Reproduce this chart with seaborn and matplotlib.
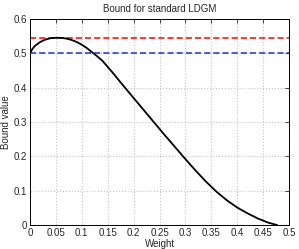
import matplotlib
matplotlib.use("Agg")
import matplotlib.pyplot as plt
import seaborn as sns
import pandas as pd

# values
weight = [0.0, 0.005, 0.01, 0.02, 0.03, 0.04, 0.05, 0.06, 0.07, 0.08, 0.09, 0.10,
          0.11, 0.12, 0.13, 0.14, 0.16, 0.18, 0.20, 0.22, 0.24, 0.26, 0.28,
          0.30, 0.32, 0.34, 0.36, 0.38, 0.40, 0.42, 0.44, 0.46, 0.477]
bound = [0.500, 0.513, 0.522, 0.533, 0.540, 0.544, 0.545, 0.545, 0.543, 0.539, 0.533, 0.525,
         0.515, 0.503, 0.491, 0.478, 0.443, 0.406, 0.370, 0.334, 0.298, 0.262, 0.227,
         0.192, 0.158, 0.126, 0.097, 0.072, 0.051, 0.034, 0.019, 0.007, 0.0]
red_level = 0.545
blue_level = 0.5
xticks = [0, 0.05, 0.1, 0.15, 0.2, 0.25, 0.3, 0.35, 0.4, 0.45, 0.5]
yticks = [0, 0.1, 0.2, 0.3, 0.4, 0.5, 0.6]

sns.set_style("white")
plt.rcParams["font.family"] = ["Liberation Sans", "DejaVu Sans"]
plt.rcParams["font.size"] = 7

df = pd.DataFrame({"Weight": weight, "Bound value": bound})

fig = plt.figure(figsize=(2.99, 2.49), dpi=100)
ax = fig.add_axes([0.1, 0.096, 0.867, 0.828])

ax.axhline(red_level, color="red", linestyle="--", linewidth=1.1, dashes=(4, 2))
ax.axhline(blue_level, color="#2030d0", linestyle="--", linewidth=1.1, dashes=(4, 2))
sns.lineplot(data=df, x="Weight", y="Bound value", color="black", linewidth=1.3, ax=ax)

ax.set_xlim(0, 0.5)
ax.set_ylim(0, 0.6)
ax.set_xticks(xticks)
ax.set_xticklabels([f"{t:g}" for t in xticks])
ax.set_yticks(yticks)
ax.set_yticklabels([f"{t:g}" for t in yticks])
ax.grid(True, color="#c4c4c4", linestyle=":", linewidth=0.8)
ax.tick_params(direction="in", length=3, width=0.6, top=True, right=True, labelsize=7, pad=2)
for s in ax.spines.values():
    s.set_linewidth(0.7)
    s.set_color("black")

ax.set_xlabel("Weight", fontsize=7, labelpad=1)
ax.set_ylabel("Bound value", fontsize=7, labelpad=2)
ax.set_title("Bound for standard LDGM", fontsize=7, pad=5)

fig.savefig("out.png", dpi=100)
